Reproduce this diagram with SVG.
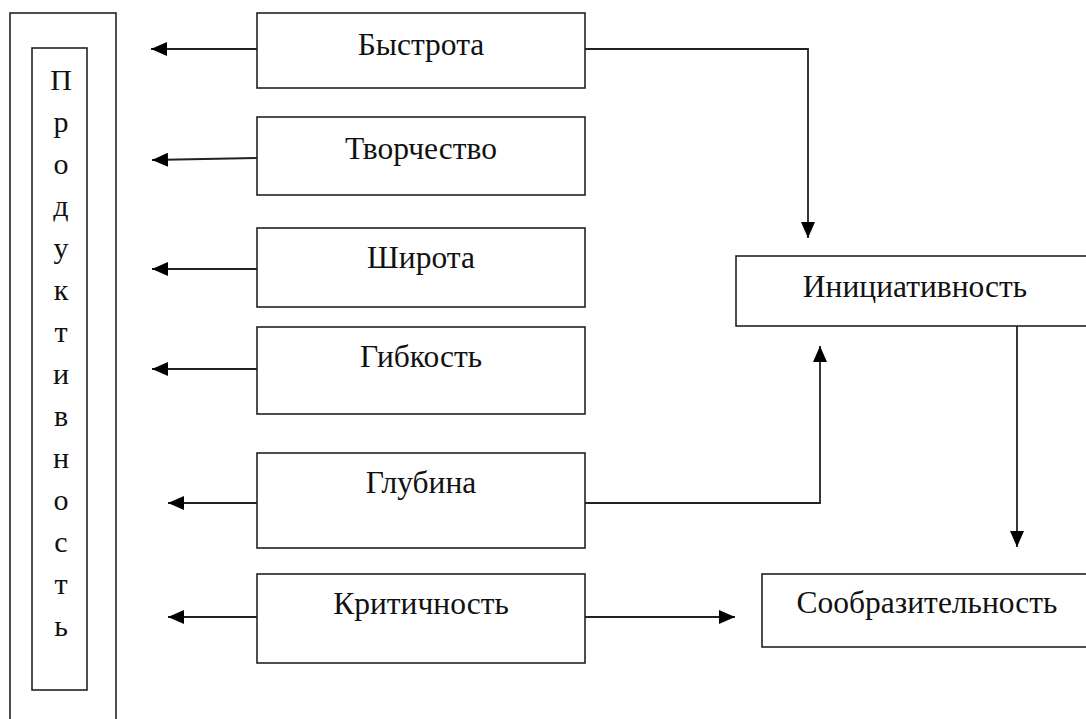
<svg xmlns="http://www.w3.org/2000/svg" width="1086" height="719" viewBox="0 0 1086 719">
<style>
.box{fill:#fff;stroke:#222;stroke-width:1.6}
.lbl{font-family:"Liberation Serif","Times New Roman",serif;font-size:31.5px;fill:#111;text-anchor:middle}
.vl{font-family:"Liberation Serif","Times New Roman",serif;font-size:30px;fill:#111;text-anchor:middle}
.con{fill:none;stroke:#222;stroke-width:1.8;marker-end:url(#ah)}
</style>
<defs>
<marker id="ah" markerUnits="userSpaceOnUse" markerWidth="16" markerHeight="14" refX="16" refY="7" orient="auto">
<path d="M0,0 L16,7 L0,14 z" fill="#000"/>
</marker>
</defs>
<rect width="1086" height="719" fill="#fff"/>
<g id="outer"><rect class="box" x="10" y="13" width="106" height="730"/></g>
<g id="produktivnost">
<rect class="box" x="32" y="48" width="55" height="642"/>
<text class="vl" x="61" y="90">П</text>
<text class="vl" x="61" y="132">р</text>
<text class="vl" x="61" y="174">о</text>
<text class="vl" x="61" y="216">д</text>
<text class="vl" x="61" y="258">у</text>
<text class="vl" x="61" y="300">к</text>
<text class="vl" x="61" y="342">т</text>
<text class="vl" x="61" y="384">и</text>
<text class="vl" x="61" y="426">в</text>
<text class="vl" x="61" y="468">н</text>
<text class="vl" x="61" y="510">о</text>
<text class="vl" x="61" y="552">с</text>
<text class="vl" x="61" y="594">т</text>
<text class="vl" x="61" y="636">ь</text>
</g>
<g id="bystrota"><rect class="box" x="257" y="13" width="328" height="75"/><text class="lbl" x="421" y="55">Быстрота</text></g>
<g id="tvorchestvo"><rect class="box" x="257" y="117" width="328" height="78"/><text class="lbl" x="421" y="159">Творчество</text></g>
<g id="shirota"><rect class="box" x="257" y="228" width="328" height="79"/><text class="lbl" x="421" y="268">Широта</text></g>
<g id="gibkost"><rect class="box" x="257" y="327" width="328" height="87"/><text class="lbl" x="421" y="367">Гибкость</text></g>
<g id="glubina"><rect class="box" x="257" y="453" width="328" height="95"/><text class="lbl" x="421" y="493">Глубина</text></g>
<g id="kritichnost"><rect class="box" x="257" y="574" width="328" height="89"/><text class="lbl" x="421" y="614">Критичность</text></g>
<g id="iniciativnost"><rect class="box" x="736" y="256" width="380" height="70"/><text class="lbl" x="915" y="297">Инициативность</text></g>
<g id="soobrazitelnost"><rect class="box" x="762" y="574" width="354" height="73"/><text class="lbl" x="927" y="613">Сообразительность</text></g>
<g id="connectors">
<path class="con" d="M257,49 L151,49"/>
<path class="con" d="M257,158 L152,160"/>
<path class="con" d="M257,269 L152,269"/>
<path class="con" d="M257,369 L152,369"/>
<path class="con" d="M257,503 L168,503"/>
<path class="con" d="M257,617 L168,617"/>
<path class="con" d="M585,49 L808,49 L808,238"/>
<path class="con" d="M585,503 L820,503 L820,346"/>
<path class="con" d="M1017,326 L1017,547"/>
<path class="con" d="M585,617 L735,617"/>
</g>
</svg>
